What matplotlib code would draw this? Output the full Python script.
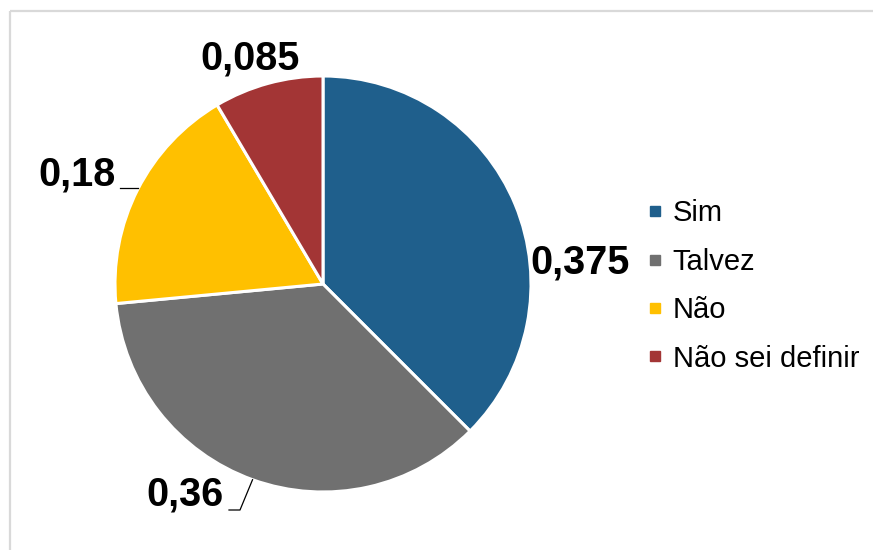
import numpy as np
import matplotlib.pyplot as plt
from matplotlib.lines import Line2D

plt.rcParams['font.family'] = ['Liberation Sans', 'DejaVu Sans']

categories = ['Sim', 'Talvez', 'Não', 'Não sei definir']
shares = [0.375, 0.36, 0.18, 0.085]
colors = ['#1F5F8C', '#707070', '#FFC000', '#A33535']

W, H = 873, 550
fig = plt.figure(figsize=(W / 100, H / 100), dpi=100)
ax = fig.add_axes([0, 0, 1, 1])

cx, cy, r = 323, H - 284, 208
wedges, _ = ax.pie(shares, colors=colors, startangle=90, counterclock=False,
                   center=(cx, cy), radius=r, frame=True,
                   wedgeprops=dict(edgecolor='white', linewidth=2.2))
ax.set_xlim(0, W)
ax.set_ylim(0, H)
ax.set_aspect('equal')
ax.axis('off')

# chart frame (top and left edges visible)
ax.plot([10, W], [H - 11, H - 11], color='#D9D9D9', lw=1.6, solid_capstyle='butt')
ax.plot([10, 10], [H - 11, 0], color='#D9D9D9', lw=1.6, solid_capstyle='butt')


def fmt(v):
    return f'{v:g}'.replace('.', ',')


def edge_point(w):
    ang = np.deg2rad((w.theta1 + w.theta2) / 2)
    return cx + r * np.cos(ang), cy + r * np.sin(ang)


lab_kw = dict(fontsize=28.5, fontweight='bold', color='black')

# Sim
ax.text(580, H - 263, fmt(shares[0]), ha='center', va='center', **lab_kw)
# Talvez, with leader line
ex, ey = edge_point(wedges[1])
ax.text(185, H - 495, fmt(shares[1]), ha='center', va='center', **lab_kw)
ax.plot([229, 240, ex], [H - 510, H - 510, ey], color='black', lw=0.9)
# Não, with leader line
ex, ey = edge_point(wedges[2])
ax.text(77, H - 175, fmt(shares[2]), ha='center', va='center', **lab_kw)
ax.plot([120, ex], [H - 188, H - 188], color='black', lw=0.9)
# Não sei definir
ax.text(250, H - 58, fmt(shares[3]), ha='center', va='center', **lab_kw)

handles = [Line2D([], [], marker='s', linestyle='none', markersize=7.5,
                  markerfacecolor=c, markeredgecolor=c) for c in colors]
ax.legend(handles, categories, loc='center left', bbox_to_anchor=(632 / W, 1 - 286 / H),
          bbox_transform=fig.transFigure, frameon=False, fontsize=21,
          handlelength=0.6, handletextpad=0.3, labelspacing=0.7, borderpad=0)

fig.savefig('out.png', dpi=100)
